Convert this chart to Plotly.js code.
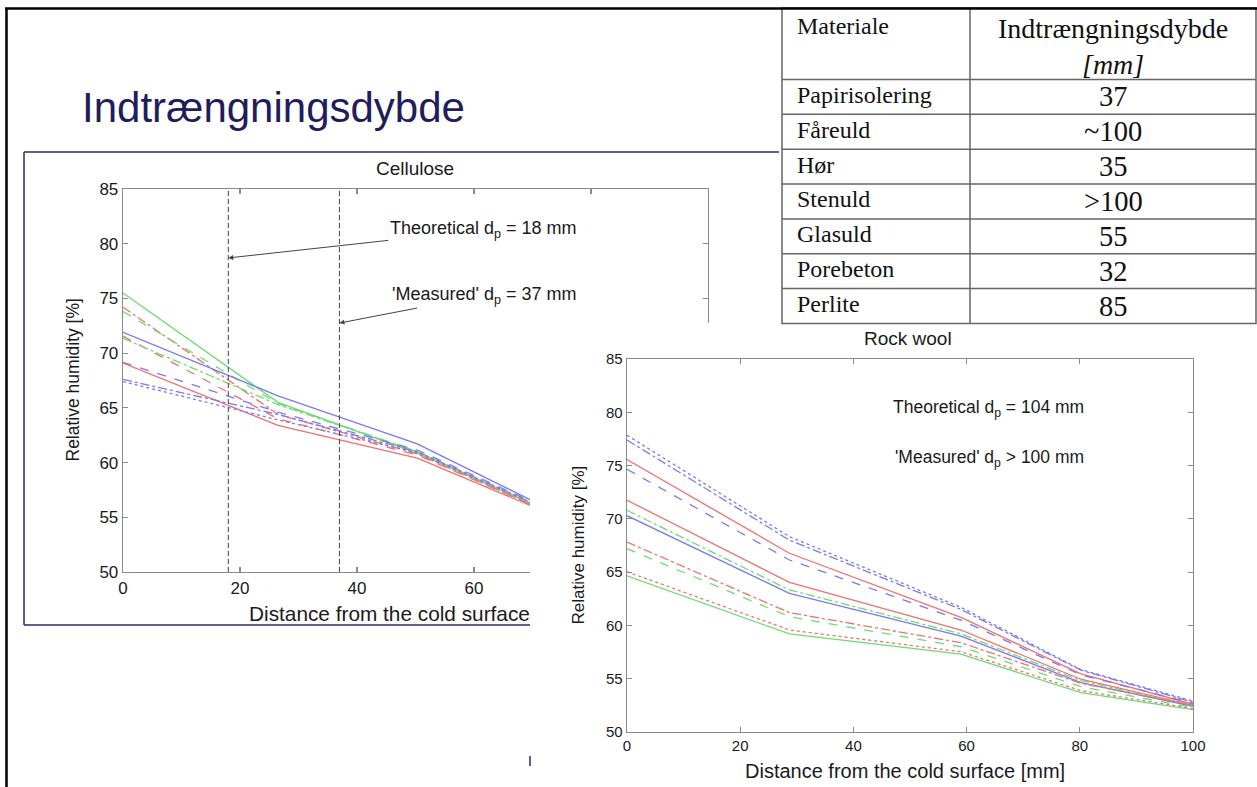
<!DOCTYPE html>
<html><head><meta charset="utf-8">
<script src="https://cdn.plot.ly/plotly-3.0.1.min.js"></script>
<style>html,body{margin:0;padding:0;background:#fff;overflow:hidden}#chart{width:1257px;height:787px}</style>
</head><body><div id="chart"></div>
<script>
const W = 1257, H = 787;
const px = v => v / W;
const py = v => 1 - v / H;
const SANS = 'Liberation Sans, Arial, sans-serif';
const SERIF = 'Liberation Serif, Times New Roman, serif';

// ---------- Cellulose (left chart) ----------
const celluloseX = [0, 26.5, 50.3, 70];
const cGreenSolid   = [75.5, 65.5, 60.85, 56.2];
const cRedDashDot   = [74.2, 64.4, 60.8, 56.1];
const cGreenDash    = [73.8, 65.4, 61.0, 56.2];
const cBlueSolid    = [71.9, 66.1, 61.7, 56.5];
const cRedDash      = [71.55, 64.0, 60.7, 56.1];
const cGreenDashDot = [71.35, 65.3, 61.0, 56.2];
const cBlueDash     = [69.15, 64.6, 61.15, 56.4];
const cRedSolid     = [69.1, 63.4, 60.4, 56.0];
const cBlueDashDot  = [67.6, 64.4, 61.0, 56.3];
const cBlueDot      = [67.4, 63.9, 60.9, 56.3];
const dpTheoreticalCellulose = 18;
const dpMeasuredCellulose = 37;

// ---------- Rock wool (right chart) ----------
const rockwoolX = [0, 28.7, 59, 80.2, 100];
const rBlueDot      = [77.85, 68.33, 61.7, 55.85, 52.9];
const rBlueDashDot  = [77.4, 68.0, 61.5, 55.8, 52.8];
const rRedSolidA    = [75.57, 66.77, 60.76, 55.45, 52.6];
const rBlueDash     = [74.65, 66.14, 60.5, 55.35, 52.7];
const rRedSolidB    = [71.75, 64.04, 59.57, 54.95, 52.5];
const rGreenDashDot = [70.8, 63.33, 59.2, 54.82, 52.45];
const rBlueSolid    = [70.3, 63.0, 59.0, 54.63, 52.4];
const rRedDashDot   = [67.82, 61.2, 58.38, 54.57, 52.5];
const rGreenDash    = [67.2, 60.82, 58.0, 54.25, 52.3];
const rRedDot       = [65.03, 59.57, 57.53, 53.88, 52.2];
const rGreenSolid   = [64.66, 59.2, 57.3, 53.69, 52.1];
const dpTheoreticalRockwool = 104;
const dpMeasuredRockwool = '&gt; 100';

// axis ranges
const rhRange = [50, 85];
const distRange = [0, 100];

// ---------- Table ----------
const tableHeader = ['Materiale', 'Indtrængningsdybde<br><i>[mm]</i>'];
const materials = ['Papirisolering', 'Fåreuld', 'Hør', 'Stenuld', 'Glasuld', 'Porebeton', 'Perlite'];
const depths = ['37', '~100', '35', '&gt;100', '55', '32', '85'];

// ---------- styles ----------
const RED = '#f07070', GREEN = '#6fdc6f', BLUE = '#7a7aef';
const cellStyles = [
  [cGreenSolid, GREEN, 'solid'], [cRedDashDot, RED, 'dashdot'], [cGreenDash, GREEN, 'dash'],
  [cBlueSolid, BLUE, 'solid'], [cRedDash, RED, 'dash'], [cGreenDashDot, GREEN, 'dashdot'],
  [cBlueDash, BLUE, 'dash'], [cRedSolid, RED, 'solid'], [cBlueDashDot, BLUE, 'dashdot'],
  [cBlueDot, BLUE, 'dot']
];
const rockStyles = [
  [rBlueDot, BLUE, 'dot'], [rBlueDashDot, BLUE, 'dashdot'], [rRedSolidA, RED, 'solid'],
  [rBlueDash, BLUE, 'dash'], [rRedSolidB, RED, 'solid'], [rGreenDashDot, GREEN, 'dashdot'],
  [rBlueSolid, BLUE, 'solid'], [rRedDashDot, RED, 'dashdot'], [rGreenDash, GREEN, 'dash'],
  [rRedDot, RED, 'dot'], [rGreenSolid, GREEN, 'solid']
];

const traces = [];
cellStyles.forEach(([ys, c, d]) => traces.push({
  type: 'scatter', mode: 'lines', x: celluloseX, y: ys, xaxis: 'x', yaxis: 'y',
  line: {color: c, width: 1.3, dash: d}, hoverinfo: 'skip'
}));
[dpTheoreticalCellulose, dpMeasuredCellulose].forEach(dp => traces.push({
  type: 'scatter', mode: 'lines', x: [dp, dp], y: rhRange, xaxis: 'x', yaxis: 'y',
  line: {color: '#444', width: 1, dash: '5px,3px'}, hoverinfo: 'skip'
}));
// white cover panel (the rock wool picture lies over the cellulose one)
traces.push({type: 'scatter', mode: 'lines', x: [], y: [], xaxis: 'x2', yaxis: 'y2', hoverinfo: 'skip'});
rockStyles.forEach(([ys, c, d]) => traces.push({
  type: 'scatter', mode: 'lines', x: rockwoolX, y: ys, xaxis: 'x3', yaxis: 'y3',
  line: {color: c, width: 1.3, dash: d}, hoverinfo: 'skip'
}));

const axisCommon = {
  showline: true, linecolor: '#8a8a8a', linewidth: 1.3, mirror: 'ticks',
  ticks: 'inside', ticklen: 5, tickwidth: 1.1, tickcolor: '#8a8a8a',
  showgrid: false, zeroline: false, fixedrange: true
};

const annoFont = s => ({family: SANS, size: s, color: '#1a1a1a'});
const annotations = [
  {xref: 'paper', yref: 'paper', x: px(80), y: py(107), xanchor: 'left', yanchor: 'middle', showarrow: false,
   text: 'Indtrængningsdybde', font: {family: SANS, size: 42, color: '#1f1d5b'}},
  {xref: 'paper', yref: 'paper', x: px(415), y: py(168), xanchor: 'center', yanchor: 'middle', showarrow: false,
   text: 'Cellulose', font: annoFont(19)},
  {xref: 'paper', yref: 'paper', x: px(73), y: py(380.5), xanchor: 'center', yanchor: 'middle', showarrow: false,
   textangle: -90, text: 'Relative humidity [%]', font: annoFont(17.5)},
  {xref: 'paper', yref: 'paper', x: px(247), y: py(613), xanchor: 'left', yanchor: 'middle', showarrow: false,
   text: 'Distance from the cold surface', font: annoFont(20.8)},
  {xref: 'x', yref: 'y', x: dpTheoreticalCellulose, y: 78.7, ax: 255, ay: -28, showarrow: true,
   arrowhead: 2, arrowsize: 1, arrowwidth: 1, arrowcolor: '#444',
   text: 'Theoretical d<sub>p</sub> = ' + dpTheoreticalCellulose + ' mm', font: annoFont(18)},
  {xref: 'x', yref: 'y', x: dpMeasuredCellulose, y: 72.75, ax: 145, ay: -28, showarrow: true,
   arrowhead: 2, arrowsize: 1, arrowwidth: 1, arrowcolor: '#444',
   text: "'Measured' d<sub>p</sub> = " + dpMeasuredCellulose + ' mm', font: annoFont(18)},
  {xref: 'paper', yref: 'paper', x: px(908), y: py(338), xanchor: 'center', yanchor: 'middle', showarrow: false,
   text: 'Rock wool', font: annoFont(19)},
  {xref: 'paper', yref: 'paper', x: px(578), y: py(545.5), xanchor: 'center', yanchor: 'middle', showarrow: false,
   textangle: -90, text: 'Relative humidity [%]', font: annoFont(17)},
  {xref: 'paper', yref: 'paper', x: px(905), y: py(771), xanchor: 'center', yanchor: 'middle', showarrow: false,
   text: 'Distance from the cold surface [mm]', font: annoFont(20)},
  {xref: 'paper', yref: 'paper', x: px(891), y: py(408), xanchor: 'left', yanchor: 'middle', showarrow: false,
   text: 'Theoretical d<sub>p</sub> = ' + dpTheoreticalRockwool + ' mm', font: annoFont(17.5)},
  {xref: 'paper', yref: 'paper', x: px(893), y: py(458), xanchor: 'left', yanchor: 'middle', showarrow: false,
   text: "'Measured' d<sub>p</sub> " + dpMeasuredRockwool + ' mm', font: annoFont(17.5)}
];

const NAVY = '#2c2a6e';
const shapes = [
  {type: 'line', xref: 'paper', yref: 'paper', x0: px(24), x1: px(779), y0: py(152), y1: py(152), line: {color: NAVY, width: 1.5}, layer: 'below'},
  {type: 'line', xref: 'paper', yref: 'paper', x0: px(24), x1: px(24), y0: py(152), y1: py(625), line: {color: NAVY, width: 1.5}, layer: 'below'},
  {type: 'line', xref: 'paper', yref: 'paper', x0: px(24), x1: px(530), y0: py(625), y1: py(625), line: {color: NAVY, width: 1.5}, layer: 'below'},
  {type: 'line', xref: 'paper', yref: 'paper', x0: px(530), x1: px(530), y0: py(756), y1: py(766), line: {color: NAVY, width: 1.5}, layer: 'above'}
];

// ---------- table grid + cell texts (built from the table arrays) ----------
const T = {left: 782, split: 970, right: 1256, top: 8, headerBottom: 79.5, rowH: 34.85};
const GRID = {color: '#666', width: 1.5};
const nRows = materials.length;
const tableBottom = T.headerBottom + nRows * T.rowH;
shapes.push({type: 'rect', xref: 'paper', yref: 'paper', x0: px(T.left), x1: px(T.right), y0: py(tableBottom), y1: py(T.top),
  line: GRID, fillcolor: 'white', layer: 'above'});
shapes.push({type: 'line', xref: 'paper', yref: 'paper', x0: px(T.split), x1: px(T.split), y0: py(tableBottom), y1: py(T.top), line: GRID, layer: 'above'});
for (let i = 0; i < nRows; i++) {
  const yl = T.headerBottom + i * T.rowH;
  shapes.push({type: 'line', xref: 'paper', yref: 'paper', x0: px(T.left), x1: px(T.right), y0: py(yl), y1: py(yl), line: GRID, layer: 'above'});
}
// slide border (black) on top
shapes.push({type: 'line', xref: 'paper', yref: 'paper', x0: px(5), x1: 1, y0: py(8.5), y1: py(8.5), line: {color: '#000', width: 2.5}, layer: 'above'});
shapes.push({type: 'line', xref: 'paper', yref: 'paper', x0: px(6.5), x1: px(6.5), y0: py(8), y1: 0, line: {color: '#000', width: 2.5}, layer: 'above'});

const serifFont = s => ({family: SERIF, size: s, color: '#111'});
annotations.push({xref: 'paper', yref: 'paper', x: px(T.left + 13), y: py(26), xanchor: 'left', yanchor: 'middle', showarrow: false,
  text: tableHeader[0], font: serifFont(24)});
annotations.push({xref: 'paper', yref: 'paper', x: px((T.split + T.right) / 2), y: py(46), xanchor: 'center', yanchor: 'middle',
  align: 'center', showarrow: false, text: tableHeader[1], font: serifFont(28)});
materials.forEach((m, i) => {
  const yc = T.headerBottom + (i + 0.5) * T.rowH;
  annotations.push({xref: 'paper', yref: 'paper', x: px(T.left + 13), y: py(yc - 2), xanchor: 'left', yanchor: 'middle',
    showarrow: false, text: m, font: serifFont(24)});
  annotations.push({xref: 'paper', yref: 'paper', x: px((T.split + T.right) / 2), y: py(yc), xanchor: 'center', yanchor: 'middle',
    showarrow: false, text: depths[i], font: serifFont(28.5)});
});

const layout = {
  width: W, height: H, margin: {l: 0, r: 0, t: 0, b: 0},
  paper_bgcolor: 'white', plot_bgcolor: 'white', showlegend: false,
  font: {family: SANS, color: '#1a1a1a'},
  xaxis: Object.assign({}, axisCommon, {domain: [px(123), px(708)], range: distRange, dtick: 20, tick0: 0, anchor: 'y',
    tickfont: {family: SANS, size: 17, color: '#1a1a1a'}}),
  yaxis: Object.assign({}, axisCommon, {domain: [py(572), py(189)], range: rhRange, dtick: 5, tick0: 50, anchor: 'x',
    tickfont: {family: SANS, size: 17, color: '#1a1a1a'}}),
  xaxis2: {domain: [px(530), 1], range: [0, 1], visible: false, anchor: 'y2', fixedrange: true},
  yaxis2: {domain: [0, py(323)], range: [0, 1], visible: false, anchor: 'x2', fixedrange: true},
  xaxis3: Object.assign({}, axisCommon, {domain: [px(627), px(1193)], range: distRange, dtick: 20, tick0: 0, anchor: 'y3',
    tickfont: {family: SANS, size: 15, color: '#1a1a1a'}}),
  yaxis3: Object.assign({}, axisCommon, {domain: [py(732), py(359)], range: rhRange, dtick: 5, tick0: 50, anchor: 'x3',
    tickfont: {family: SANS, size: 15, color: '#1a1a1a'}}),
  annotations: annotations,
  shapes: shapes
};

Plotly.newPlot('chart', traces, layout, {staticPlot: true, displayModeBar: false});
</script>
</body></html>
